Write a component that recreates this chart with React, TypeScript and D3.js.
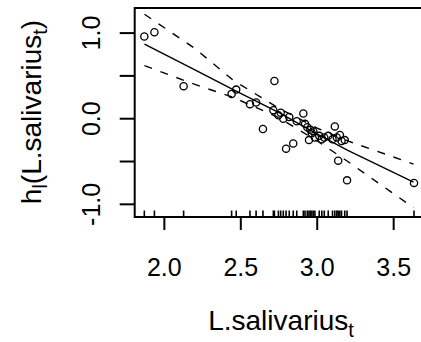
import React from "react";
import * as d3 from "d3";

const pointX = [1.869, 1.935, 2.126, 2.44, 2.47, 2.56, 2.60, 2.645, 2.713, 2.72, 2.746, 2.761, 2.778, 2.796, 2.817, 2.843, 2.866, 2.909, 2.92, 2.935, 2.946, 2.955, 2.965, 2.975, 2.985, 3.013, 3.03, 3.046, 3.072, 3.10, 3.115, 3.128, 3.137, 3.148, 3.159, 3.18, 3.195, 3.633];
const pointY = [0.96, 1.01, 0.38, 0.29, 0.34, 0.17, 0.19, -0.12, 0.10, 0.44, 0.04, 0.07, 0.00, -0.35, 0.02, -0.29, -0.03, 0.06, -0.06, -0.10, -0.25, -0.13, -0.17, -0.15, -0.22, -0.20, -0.24, -0.22, -0.20, -0.24, -0.09, -0.22, -0.49, -0.19, -0.26, -0.25, -0.72, -0.75];

const fitX = [1.87, 2.2, 2.45, 2.75, 3.0, 3.2, 3.63];
const fitY = [0.87, 0.57, 0.34, 0.07, -0.18, -0.37, -0.74];
const upperY = [1.22, 0.82, 0.45, 0.12, -0.11, -0.26, -0.53];
const lowerY = [0.62, 0.40, 0.25, 0.01, -0.26, -0.50, -1.04];

const xTicks = [2.0, 2.5, 3.0, 3.5];
const yTicks = [-1.0, -0.5, 0.0, 0.5, 1.0];
const yLabels = [-1.0, 0.0, 1.0];

const L = 134.7, R = 427, T = 8, B = 217;

export default function App() {
  const x = d3.scaleLinear().domain([1.806, 3.718]).range([L, R]);
  const y = d3.scaleLinear().domain([-1.148, 1.293]).range([B, T]);
  const mk = (ys: number[]) =>
    d3.line<number>().x((_, i) => x(fitX[i])).y((d) => y(d))(ys) || "";
  const font = "'Liberation Sans', Arial, sans-serif";
  return (
    <div style={{ position: "fixed", left: 0, top: 0 }}>
      <svg width={421} height={342} style={{ display: "block", background: "#fff" }} fontFamily={font}>
        <rect x={0} y={0} width={421} height={342} fill="#fff" />
        <path d={mk(fitY)} fill="none" stroke="#000" strokeWidth={1.4} />
        <path d={mk(upperY)} fill="none" stroke="#000" strokeWidth={1.4} strokeDasharray="8,9" />
        <path d={mk(lowerY)} fill="none" stroke="#000" strokeWidth={1.4} strokeDasharray="8,9" />
        {pointX.map((v, i) => (
          <circle key={i} cx={x(v)} cy={y(pointY[i])} r={3.6} fill="none" stroke="#000" strokeWidth={1.3} />
        ))}
        {pointX.map((v, i) => (
          <line key={"r" + i} x1={x(v)} x2={x(v)} y1={B} y2={B - 6.5} stroke="#000" strokeWidth={1.6} />
        ))}
        <rect x={L} y={T} width={R - L} height={B - T} fill="none" stroke="#000" strokeWidth={2} />
        {xTicks.map((t) => (
          <g key={"x" + t}>
            <line x1={x(t)} x2={x(t)} y1={B} y2={B + 13} stroke="#000" strokeWidth={2} />
            <text x={x(t)} y={276} textAnchor="middle" fontSize={25} fill="#000">
              {t.toFixed(1)}
            </text>
          </g>
        ))}
        {yTicks.map((t) => (
          <line key={"y" + t} x1={L} x2={L - 15} y1={y(t)} y2={y(t)} stroke="#000" strokeWidth={2} />
        ))}
        {yLabels.map((t) => (
          <text key={"yl" + t} transform={`translate(100,${y(t)}) rotate(-90)`} textAnchor="middle" fontSize={25} fill="#000">
            {t.toFixed(1)}
          </text>
        ))}
        <text x={281} y={330} textAnchor="middle" fontSize={28} fill="#000">
          L.salivarius<tspan dy={7} fontSize={20}>t</tspan>
        </text>
        <text transform="translate(41,112) rotate(-90)" textAnchor="middle" fontSize={28} fill="#000">
          h<tspan dy={6} fontSize={20}>l</tspan>
          <tspan dy={-6}>(L.salivarius</tspan>
          <tspan dy={6} fontSize={20}>t</tspan>
          <tspan dy={-6}>)</tspan>
        </text>
      </svg>
    </div>
  );
}
